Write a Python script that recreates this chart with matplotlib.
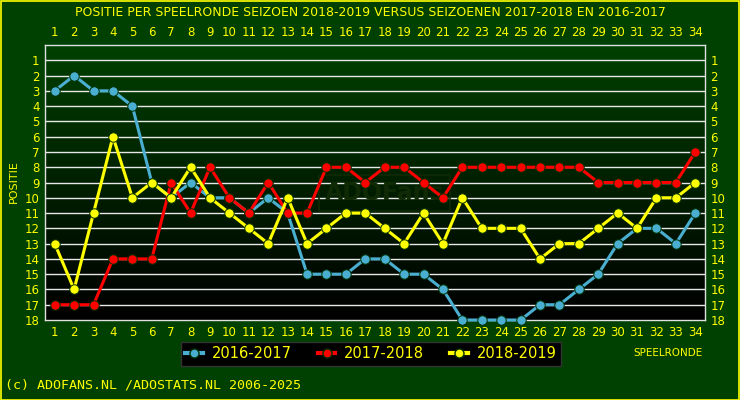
import numpy as np
import matplotlib
matplotlib.use("Agg")
import matplotlib.pyplot as plt
from matplotlib.lines import Line2D
from matplotlib.patches import Rectangle
from matplotlib.colors import LinearSegmentedColormap

rounds = list(range(1, 35))
s1617 = [3, 2, 3, 3, 4, 9, 10, 9, 10, 10, 11, 10, 11, 15, 15, 15, 14, 14, 15, 15, 16, 18, 18, 18, 18, 17, 17, 16, 15, 13, 12, 12, 13, 11]
s1718 = [17, 17, 17, 14, 14, 14, 9, 11, 8, 10, 11, 9, 11, 11, 8, 8, 9, 8, 8, 9, 10, 8, 8, 8, 8, 8, 8, 8, 9, 9, 9, 9, 9, 7]
s1819 = [13, 16, 11, 6, 10, 9, 10, 8, 10, 11, 12, 13, 10, 13, 12, 11, 11, 12, 13, 11, 13, 10, 12, 12, 12, 14, 13, 13, 12, 11, 12, 10, 10, 9]
labels = ["2016-2017", "2017-2018", "2018-2019"]
colors = ["#4aaed0", "#ff0000", "#ffff00"]
positions = list(range(1, 19))

BG = "#004000"
YEL = "#ffff00"

fig = plt.figure(figsize=(7.4, 4.0), dpi=100, facecolor=BG)
fig.patches.append(Rectangle((0.0007, 0.001), 0.9986, 0.997, transform=fig.transFigure,
                             fill=False, edgecolor=YEL, linewidth=1.2))

L, R, T, B = 45 / 740, 705 / 740, 45 / 400, 320 / 400
ax = fig.add_axes([L, 1 - B, R - L, B - T])
ax.set_xlim(0.5, 34.5)
ax.set_ylim(18, 0)

grad = np.linspace(0, 1, 256).reshape(-1, 1)
cmap = LinearSegmentedColormap.from_list("g", [BG, "#000000"])
ax.imshow(grad, extent=[0.5, 34.5, 18, 0], aspect="auto", cmap=cmap, zorder=0)

for p in positions[:-1]:
    ax.axhline(p, color="#e8e8e8", linewidth=1.0, zorder=1)

ax.text(18, 9.7, "ADOFans", ha="center", va="center", fontsize=17, fontweight="bold",
        color="#0f2a05", zorder=1.5,
        bbox=dict(boxstyle="square,pad=0.25", fc="none", ec="#0f2a05", lw=1.2))

for vals, c in zip([s1617, s1718, s1819], colors):
    ax.plot(rounds, vals, color=c, linewidth=2.2, marker="o", markersize=6.8,
            markerfacecolor=c, markeredgecolor="#003000", markeredgewidth=0.7, zorder=3,
            clip_on=False)

for sp in ax.spines.values():
    sp.set_color("#e0e0e0")
    sp.set_linewidth(1.0)

ax.set_xticks(rounds)
ax.set_xticklabels([str(r) for r in rounds])
ax.set_yticks(positions)
ax.set_yticklabels([str(p) for p in positions])
ax.tick_params(axis="both", which="both", length=0, colors=YEL, labelsize=8.5,
               top=True, labeltop=True, right=True, labelright=True, pad=4)
for lab in ax.get_xticklabels() + ax.get_yticklabels():
    lab.set_color(YEL)

fig.text(0.5, 1 - 12 / 400, "POSITIE PER SPEELRONDE SEIZOEN 2018-2019 VERSUS SEIZOENEN 2017-2018 EN 2016-2017",
         ha="center", va="center", color=YEL, fontsize=9)
fig.text(14 / 740, 1 - 182 / 400, "POSITIE", rotation=90, ha="center", va="center",
         color=YEL, fontsize=8)
fig.text(668 / 740, 1 - 353 / 400, "SPEELRONDE", ha="center", va="center", color=YEL, fontsize=7.5)
fig.text(5 / 740, 1 - 385 / 400, "(c) ADOFANS.NL /ADOSTATS.NL 2006-2025", ha="left", va="center",
         color=YEL, fontsize=9.6, family="DejaVu Sans Mono")

handles = [Line2D([0], [0], color=c, linewidth=3, marker="o", markersize=6.5,
                  markerfacecolor=c, markeredgecolor="#003000") for c in colors]
leg = fig.legend(handles, labels, loc="center", bbox_to_anchor=(371 / 740, 1 - 354 / 400),
                 ncol=3, frameon=True, facecolor="#000000", edgecolor="#333333",
                 labelcolor=YEL, fontsize=10.5, handlelength=1.2, columnspacing=1.8,
                 handletextpad=0.6, borderpad=0.3, borderaxespad=0, fancybox=False)
leg.get_frame().set_linewidth(1.0)
leg.get_frame().set_alpha(1)

fig.savefig("out.png", dpi=100, facecolor=BG)
